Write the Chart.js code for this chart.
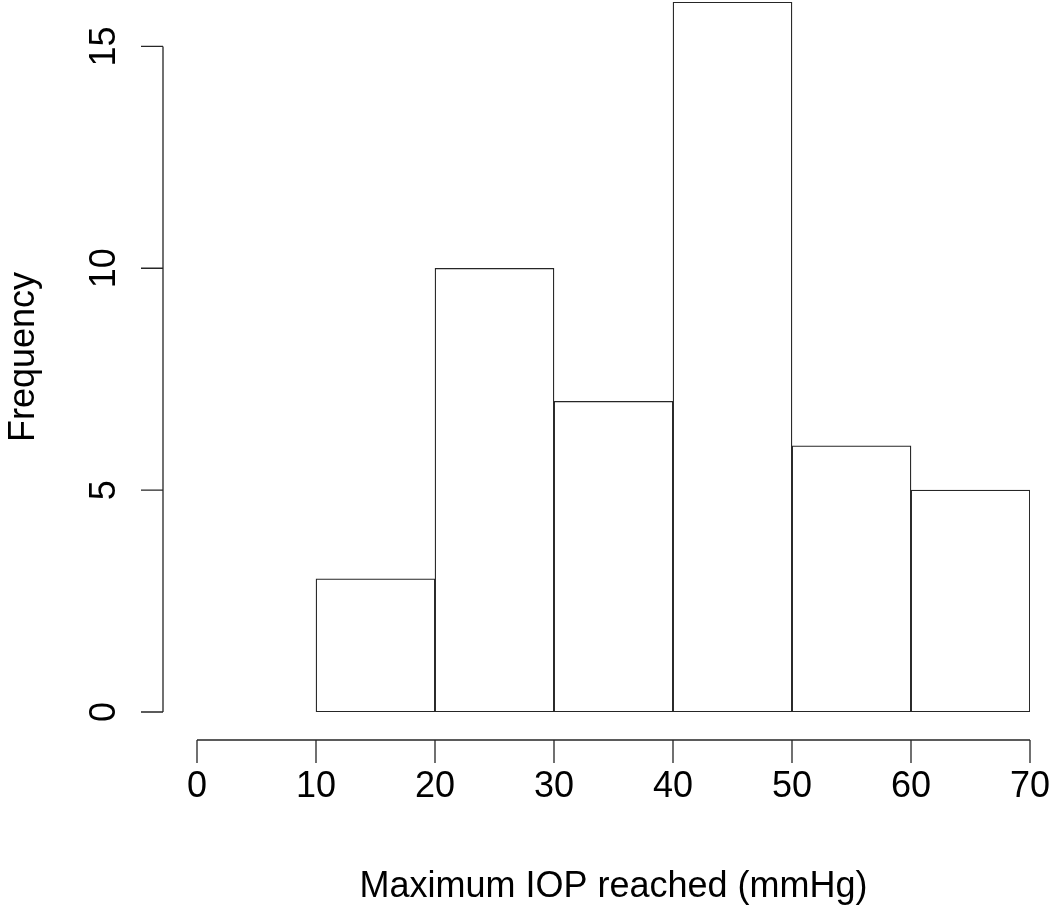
<!DOCTYPE html>
<html>
<head>
<meta charset="utf-8">
<script src="https://cdn.jsdelivr.net/npm/chart.js@4/dist/chart.umd.min.js"></script>
<style>
  body{margin:0;background:#fff;}
  #caja{width:1050px;height:920px;}
</style>
</head>
<body>
<div id="caja"><canvas id="histo"></canvas></div>
<script>
// bins of the histogram (mmHg) and how many eyes fell in each
const binInicio = [10, 20, 30, 40, 50, 60];
const binFin    = [20, 30, 40, 50, 60, 70];
const frecuencia = [3, 10, 7, 16, 6, 5];
const ticksX = [0, 10, 20, 30, 40, 50, 60, 70];
const ticksY = [0, 5, 10, 15];

const fuente = "'Liberation Sans', Arial, sans-serif";
const colorLinea = '#262626';

const datos = binInicio.map((ini, i) => ({x: (ini + binFin[i]) / 2, y: frecuencia[i]}));

// ejes estilo R: separados del area del grafico
const ejesR = {
    id: 'ejesR',
    afterDraw(chart){
        const ctx = chart.ctx;
        const area = chart.chartArea;
        const sx = chart.scales.x, sy = chart.scales.y;
        ctx.save();
        ctx.strokeStyle = colorLinea;
        ctx.lineWidth = 1.3;
        // eje y
        const xEje = area.left - 34;
        ctx.beginPath();
        ctx.moveTo(xEje, sy.getPixelForValue(ticksY[0]));
        ctx.lineTo(xEje, sy.getPixelForValue(ticksY[ticksY.length - 1]));
        for(let v of ticksY){
            const p = sy.getPixelForValue(v);
            ctx.moveTo(xEje, p);
            ctx.lineTo(xEje - 22, p);
        }
        ctx.stroke();
        // eje x
        const yEje = area.bottom + 28;
        ctx.beginPath();
        ctx.moveTo(sx.getPixelForValue(ticksX[0]), yEje);
        ctx.lineTo(sx.getPixelForValue(ticksX[ticksX.length - 1]), yEje);
        for(let v of ticksX){
            const p = sx.getPixelForValue(v);
            ctx.moveTo(p, yEje);
            ctx.lineTo(p, yEje + 23);
        }
        ctx.stroke();
        ctx.restore();
    }
};

const config = {
    type: 'bar',
    data: {
        datasets: [{
            label: 'Frequency',
            data: datos,
            backgroundColor: '#ffffff',
            borderColor: colorLinea,
            borderWidth: 1.3,
            borderSkipped: false,
            barPercentage: 1,
            categoryPercentage: 1
        }]
    },
    options: {
        responsive: true,
        maintainAspectRatio: false,
        animation: false,
        layout: {padding: {top: 2, right: 20, left: 0, bottom: 0}},
        plugins: {
            legend: {display: false},
            tooltip: {enabled: false}
        },
        scales: {
            x: {
                type: 'linear',
                min: ticksX[0],
                max: ticksX[ticksX.length - 1],
                offset: false,
                grid: {display: false, drawTicks: false},
                border: {display: false},
                afterBuildTicks: (s) => { s.ticks = ticksX.map(v => ({value: v})); },
                ticks: {
                    color: '#000',
                    padding: 53,
                    maxRotation: 0,
                    font: {family: fuente, size: 36}
                },
                title: {
                    display: true,
                    text: 'Maximum IOP reached (mmHg)',
                    color: '#000',
                    padding: {top: 0, bottom: 11},
                    font: {family: fuente, size: 36}
                },
                afterFit: (s) => { s.height = 208; s.paddingLeft = 0; s.paddingRight = 0; }
            },
            y: {
                min: 0,
                max: 16,
                grid: {display: false, drawTicks: false},
                border: {display: false},
                afterBuildTicks: (s) => { s.ticks = ticksY.map(v => ({value: v})); },
                ticks: {
                    color: '#000',
                    padding: 72,
                    minRotation: 90,
                    maxRotation: 90,
                    crossAlign: 'center',
                    font: {family: fuente, size: 36}
                },
                title: {
                    display: true,
                    text: 'Frequency',
                    color: '#000',
                    padding: {top: 2, bottom: 0},
                    font: {family: fuente, size: 36}
                },
                afterFit: (s) => { s.width = 197; s.paddingTop = 0; s.paddingBottom = 0; }
            }
        }
    },
    plugins: [ejesR]
};

const grafico = new Chart(document.getElementById('histo'), config);
</script>
</body>
</html>
